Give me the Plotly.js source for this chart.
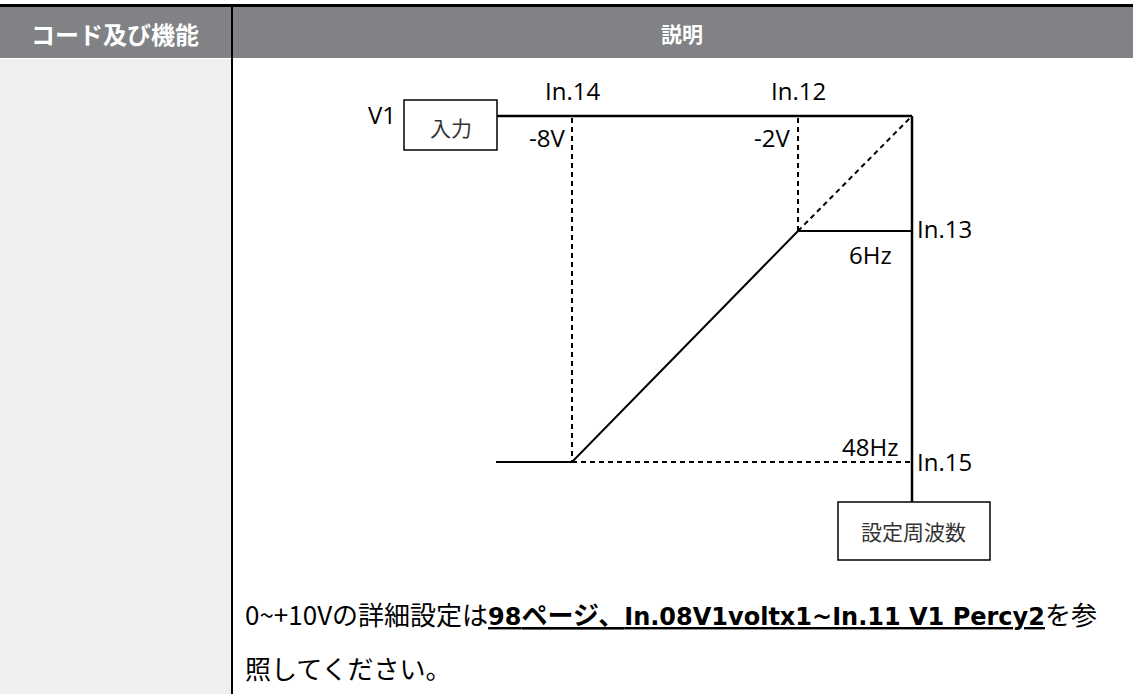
<!DOCTYPE html>
<html>
<head>
<meta charset="utf-8">
<script src="https://cdn.plot.ly/plotly-3.0.1.min.js"></script>
<style>
  html, body { margin: 0; padding: 0; background: #ffffff; }
  #chart { width: 1133px; height: 694px; }
</style>
</head>
<body>
<div id="chart"></div>
<script>
// ---- table texts ----
const headerLabels = ['コード及び機能', '説明'];
const noteLine1Plain = '0~+10Vの詳細設定は';
const noteLinkPage = '98';
const noteLinkPageJp = 'ページ、';
const noteLinkParams = 'In.08V1voltx1~In.11 V1 Percy2';
const noteLine1Tail = 'を参';
const noteLine2 = '照してください。';

// ---- diagram values (diagram units) ----
const inputName = 'V1';
const inputBoxLabel = '入力';
const outputBoxLabel = '設定周波数';
const voltLabels = ['-8V', '-2V'];
const voltParams = ['In.14', 'In.12'];
const voltPosX = [572, 798];
const freqLabels = ['6Hz', '48Hz'];
const freqParams = ['In.13', 'In.15'];
const freqPosY = [231, 462];
const inputLineX = [497, 912];
const inputLineY = [116, 116];
const outputLineX = [912, 912];
const outputLineY = [116, 502];
const curveX = [496, 572, 798, 912];
const curveY = [462, 462, 231, 231];

const FONT_LAT = '"Open Sans", "Noto Sans", sans-serif';
const FONT_JP = '"Noto Sans CJK JP", sans-serif';

const traces = [];
function line(xs, ys, w, dash) {
  traces.push({
    type: 'scatter', mode: 'lines', x: xs, y: ys,
    line: { color: '#000000', width: w, dash: dash || 'solid' },
    hoverinfo: 'skip', showlegend: false
  });
}
// solid input line and output line
line(inputLineX, inputLineY, 2.5);
line(outputLineX, outputLineY, 2.5);
// the characteristic curve
line(curveX, curveY, 2);
// dashed guides
const DASH = '5px,4px';
line([voltPosX[0], voltPosX[0]], [inputLineY[0] + 2, freqPosY[1]], 2, DASH);
line([voltPosX[1], voltPosX[1]], [inputLineY[0] + 2, freqPosY[0]], 2, DASH);
line([voltPosX[1], outputLineX[0] - 2], [freqPosY[0], inputLineY[0] + 2], 2, DASH);
line([voltPosX[0], outputLineX[0]], [freqPosY[1], freqPosY[1]], 2, DASH);

const shapes = [
  // header band
  { type: 'rect', xref: 'x', yref: 'y', x0: 0, x1: 1133, y0: 7, y1: 58, fillcolor: '#818285', line: { width: 0 }, layer: 'below' },
  { type: 'rect', xref: 'x', yref: 'y', x0: 0, x1: 1133, y0: 4, y1: 7, fillcolor: '#000000', line: { width: 0 }, layer: 'below' },
  // left column body
  { type: 'rect', xref: 'x', yref: 'y', x0: 0, x1: 231, y0: 59, y1: 694, fillcolor: '#efefef', line: { width: 0 }, layer: 'below' },
  // column divider
  { type: 'line', xref: 'x', yref: 'y', x0: 232, x1: 232, y0: 7, y1: 694, line: { color: '#000000', width: 2 }, layer: 'below' },
  // input box
  { type: 'rect', xref: 'x', yref: 'y', x0: 404, x1: 497, y0: 100, y1: 150, fillcolor: '#ffffff', line: { color: '#000000', width: 1.5 } },
  // output box
  { type: 'rect', xref: 'x', yref: 'y', x0: 838, x1: 990, y0: 502, y1: 560, fillcolor: '#ffffff', line: { color: '#000000', width: 1.5 } }
];

function ann(text, x, y, opts) {
  return Object.assign({
    text: text, x: x, y: y, xref: 'x', yref: 'y', showarrow: false,
    xanchor: 'center', yanchor: 'middle',
    font: { family: FONT_LAT, size: 24, color: '#000000' }
  }, opts || {});
}

const U = 'text-decoration:underline;font-weight:bold;';
const LAT_B = 'font-family:DejaVu Sans;font-size:24px;';
const noteLine1 = noteLine1Plain +
  '<span style="' + U + LAT_B + '">' + noteLinkPage + '</span>' +
  '<span style="' + U + '">' + noteLinkPageJp + '</span>' +
  '<span style="' + U + LAT_B + '">' + noteLinkParams + '</span>' +
  noteLine1Tail;

const annotations = [
  ann('<b>' + headerLabels[0] + '</b>', 115, 33, { font: { family: FONT_JP, size: 24, color: '#ffffff' } }),
  ann('<b>' + headerLabels[1] + '</b>', 682, 33, { font: { family: FONT_JP, size: 21, color: '#ffffff' } }),
  ann(inputName, 398, 114, { xanchor: 'right' }),
  ann(inputBoxLabel, 451, 127, { font: { family: FONT_JP, size: 21, color: '#333333' } }),
  ann(outputBoxLabel, 913, 531, { font: { family: FONT_JP, size: 21, color: '#333333' } }),
  ann(voltParams[0], voltPosX[0], 90),
  ann(voltParams[1], voltPosX[1], 90),
  ann(voltLabels[0], voltPosX[0] - 5, 137, { xanchor: 'right' }),
  ann(voltLabels[1], voltPosX[1] - 6, 137, { xanchor: 'right' }),
  ann(freqParams[0], outputLineX[0] + 3, freqPosY[0] - 3, { xanchor: 'left' }),
  ann(freqParams[1], outputLineX[0] + 3, freqPosY[1] - 1, { xanchor: 'left' }),
  ann(freqLabels[0], 870, freqPosY[0] + 23),
  ann(freqLabels[1], 900, freqPosY[1] - 16, { xanchor: 'right' }),
  ann(noteLine1, 243, 613, { xanchor: 'left', font: { family: FONT_JP, size: 26, color: '#000000' } }),
  ann(noteLine2, 243, 667, { xanchor: 'left', font: { family: FONT_JP, size: 26, color: '#000000' } })
];

const layout = {
  width: 1133, height: 694,
  margin: { l: 0, r: 0, t: 0, b: 0, pad: 0 },
  paper_bgcolor: '#ffffff', plot_bgcolor: '#ffffff',
  xaxis: { range: [0, 1133], visible: false, fixedrange: true },
  yaxis: { range: [694, 0], visible: false, fixedrange: true },
  shapes: shapes,
  annotations: annotations,
  showlegend: false
};

Plotly.newPlot('chart', traces, layout, { displayModeBar: false, staticPlot: true });
</script>
</body>
</html>
